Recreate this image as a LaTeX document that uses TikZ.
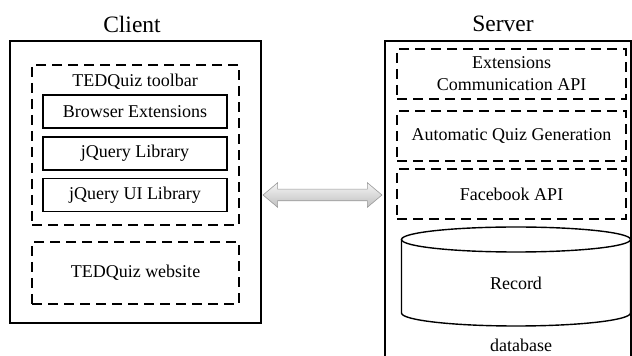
\documentclass[tikz,border=0pt]{standalone}
\usepackage{fontspec}
\setmainfont{Liberation Serif}
\usetikzlibrary{positioning,shapes.arrows}
\begin{document}
\begin{tikzpicture}[x=1pt,y=1pt,
  txt/.style={font=\fontsize{18}{22}\selectfont},
  ttl/.style={font=\fontsize{23.5}{27}\selectfont},
  outer/.style={draw,line width=1.8pt,inner sep=0pt},
  solidbox/.style={draw,line width=1.8pt,txt,minimum width=184,minimum height=33,inner sep=0pt},
  dashbox/.style={draw,line width=1.6pt,dash pattern=on 10pt off 6pt,txt,inner sep=0pt,align=center}]
\useasboundingbox (0,0) rectangle (632,356);
\node[outer,minimum width=251,minimum height=282] (client) at (135.5,174) {};
\node[ttl] (clientt) at (132,332) {Client};
\node[dashbox,minimum width=207,minimum height=160] (toolbar) at (135.5,211) {};
\node[txt] (toolbart) at (135,274) {TEDQuiz toolbar};
\node[solidbox] (browser) at (135,244.5) {Browser Extensions};
\node[solidbox,below=7 of browser] (jquery) {jQuery Library};
\node[solidbox,below=7 of jquery] (jqueryui) {jQuery UI Library};
\node[dashbox,minimum width=207,minimum height=62] (website) at (135.5,83) {TEDQuiz website};
\node[double arrow,draw=gray!80,line width=0.6pt,top color=gray!8,bottom color=gray!50,
  inner xsep=0pt,inner ysep=5.5pt,minimum height=119,double arrow head extend=6.5,
  double arrow tip angle=80] (link) at (322.5,161) {};
\draw[line width=1.8pt] (385,-2) |- (631,315) -- (631,-2);
\node[ttl] (servert) at (503,332) {Server};
\node[dashbox,minimum width=229,minimum height=50] (extapi) at (511.5,282) {Extensions\\Communication API};
\node[dashbox,minimum width=229,minimum height=50] (quizgen) at (511.5,220) {Automatic Quiz Generation};
\node[dashbox,minimum width=229,minimum height=50] (fbapi) at (511.5,162) {Facebook API};
\draw[line width=1.4pt] (516,116.5) ellipse (114.5 and 12.5);
\draw[line width=1.4pt] (401.5,116.5) -- (401.5,43) arc[start angle=180,end angle=360,x radius=114.5,y radius=13] -- (630.5,116.5);
\node[txt] (record) at (516,73) {Record};
\node[txt] (db) at (521,11) {database};
\end{tikzpicture}
\end{document}
